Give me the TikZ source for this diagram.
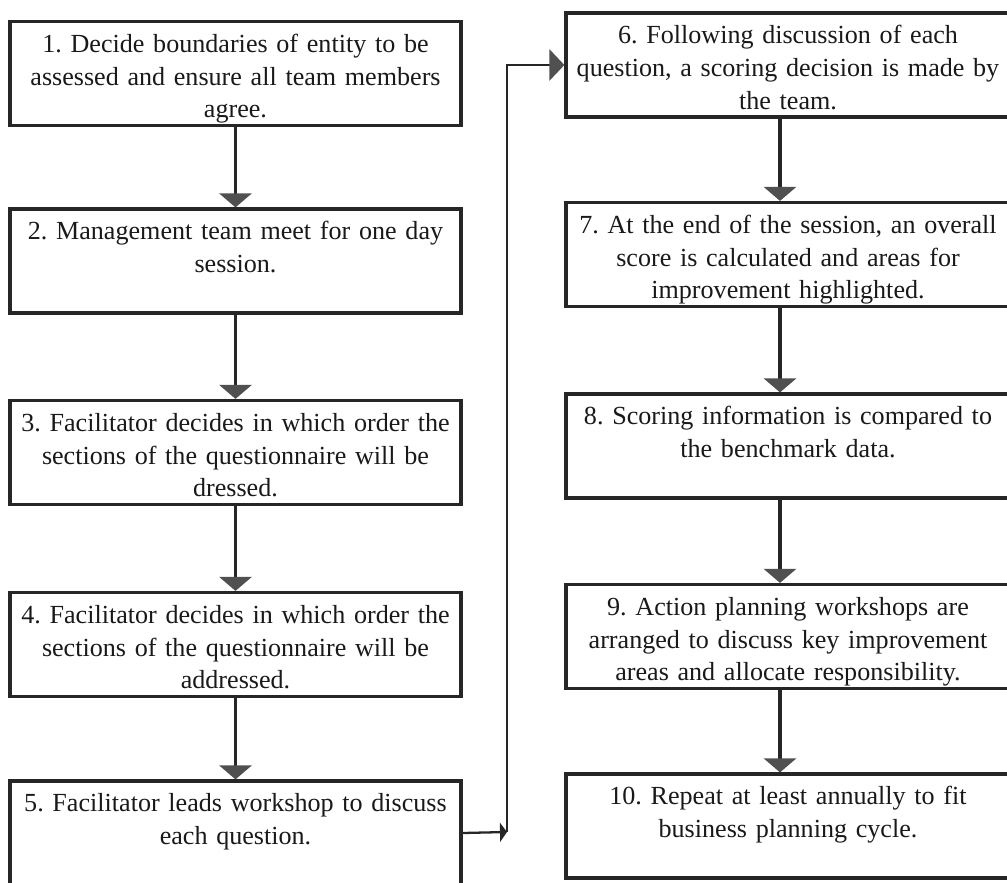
\documentclass[tikz,border=0pt]{standalone}
\usepackage{fontspec}
\setmainfont{Liberation Serif}
\frenchspacing
\usetikzlibrary{arrows.meta}
\definecolor{ink}{HTML}{262626}
\definecolor{headgray}{HTML}{505050}
\tikzset{
  stepbox/.style={draw=ink, line width=1.8pt, minimum height=2.08cm, inner sep=1pt, align=center,
    font=\fontsize{14.85}{18.7}\selectfont, text=black!90,
    text height=0.58cm, text depth=1.43cm},
  leftbox/.style={stepbox, minimum width=9.02cm, text width=8.95cm},
  rightbox/.style={stepbox, minimum width=8.88cm, text width=8.8cm},
  flow/.style={draw=ink, line width=1.8pt, -{Triangle[width=0.64cm,length=0.28cm,color=headgray]}},
  loopline/.style={draw=ink, line width=1.3pt}
}
\begin{document}
\begin{tikzpicture}
                \useasboundingbox (0, 0) rectangle (20.14, -17.66);
                \clip (0, 0) rectangle (20.14, -17.66);

                % left column
                \node[leftbox] (b1) at (4.71, -1.47) {1. Decide boundaries of entity to be\\ assessed and ensure all team members\\ agree.};
                \node[leftbox] (b2) at (4.71, -5.22) {2. Management team meet for one day\\ session.};
                \node[leftbox] (b3) at (4.71, -9.05) {3. Facilitator decides in which order the\\ sections of the questionnaire will be\\ dressed.};
                \node[leftbox] (b4) at (4.71, -12.89) {4. Facilitator decides in which order the\\ sections of the questionnaire will be\\ addressed.};
                \node[leftbox] (b5) at (4.71, -16.66) {5. Facilitator leads workshop to discuss\\ each question.};

                % right column
                \node[rightbox] (b6) at (15.76, -1.30) {6. Following discussion of each\\ question, a scoring decision is made by\\ the team.};
                \node[rightbox] (b7) at (15.76, -5.09) {7. At the end of the session, an overall\\ score is calculated and areas for\\ improvement highlighted.};
                \node[rightbox] (b8) at (15.76, -8.92) {8. Scoring information is compared to\\ the benchmark data.};
                \node[rightbox] (b9) at (15.76, -12.73) {9. Action planning workshops are\\ arranged to discuss key improvement\\ areas and allocate responsibility.};
                \node[rightbox] (b10) at (15.76, -16.52) {10. Repeat at least annually to fit\\ business planning cycle.};

                \foreach \a/\b in {b1/b2, b2/b3, b3/b4, b4/b5} {
                    \draw[flow] (\a.south) -- (\b.north);
                }
                \foreach \a/\b in {b6/b7, b7/b8, b8/b9, b9/b10} {
                    \draw[flow] ([xshift=-0.16cm]\a.south) -- ([xshift=-0.16cm]\b.north);
                }

                % link from 5 up to 6
                \coordinate (turn) at (10.14, -16.64);
                \draw[loopline, -{Triangle[width=0.38cm,length=0.14cm]}] (b5.east) -- (turn);
                \draw[loopline, line width=1.6pt, -{Triangle[width=0.62cm,length=0.3cm,color=headgray]}] (turn) |- (b6.west);
\end{tikzpicture}
\end{document}
